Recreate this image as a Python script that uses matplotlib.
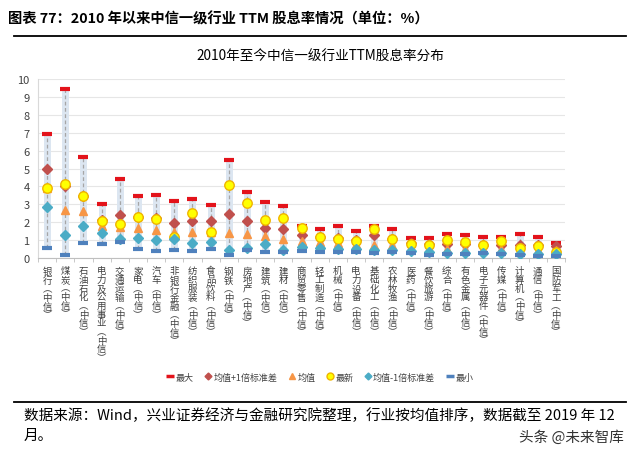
import numpy as np
import matplotlib
matplotlib.use("Agg")
import matplotlib.pyplot as plt
from matplotlib.lines import Line2D

plt.rcParams["font.family"] = ["Noto Sans CJK SC", "DejaVu Sans"]

industries = ["银行", "煤炭", "石油石化", "电力及公用事业", "交通运输", "家电", "汽车",
              "非银行金融", "纺织服装", "食品饮料", "钢铁", "房地产", "建筑", "建材",
              "商贸零售", "轻工制造", "机械", "电力设备", "基础化工", "农林牧渔", "医药",
              "餐饮旅游", "综合", "有色金属", "电子元器件", "传媒", "计算机", "通信", "国防军工"]

max_v = [6.9, 9.45, 5.65, 3.0, 4.43, 3.46, 3.5, 3.2, 3.27, 2.96, 5.46, 3.7, 3.15, 2.92,
         1.8, 1.62, 1.8, 1.5, 1.77, 1.62, 1.1, 1.12, 1.34, 1.3, 1.15, 1.19, 1.34, 1.2, 0.84]
plus_sd = [5.0, 4.05, 3.45, 2.1, 2.38, 2.3, 2.25, 1.98, 2.09, 2.07, 2.46, 2.09, 1.7, 1.6,
           1.3, 1.15, 1.1, 1.0, 1.3, 1.05, 0.85, 0.78, 0.8, 0.78, 0.72, 0.72, 0.75, 0.72, 0.66]
mean_v = [3.9, 2.68, 2.65, 1.76, 1.75, 1.7, 1.58, 1.47, 1.46, 1.45, 1.4, 1.32, 1.25, 1.04,
          0.97, 0.88, 0.82, 0.77, 0.75, 0.73, 0.6, 0.56, 0.53, 0.52, 0.5, 0.49, 0.47, 0.45, 0.43]
latest = [3.89, 4.15, 3.48, 2.04, 1.88, 2.28, 2.17, 1.2, 2.5, 1.48, 4.08, 3.05, 2.12, 2.23,
          1.68, 1.18, 1.05, 0.95, 1.62, 1.05, 0.8, 0.75, 1.02, 0.92, 0.72, 0.93, 0.55, 0.68, 0.33]
minus_sd = [2.85, 1.26, 1.8, 1.4, 1.08, 1.1, 0.98, 1.05, 0.82, 0.88, 0.44, 0.58, 0.8, 0.47,
            0.62, 0.58, 0.5, 0.48, 0.42, 0.42, 0.38, 0.34, 0.3, 0.3, 0.3, 0.28, 0.25, 0.22, 0.22]
min_v = [0.54, 0.18, 0.82, 0.78, 0.87, 0.53, 0.38, 0.45, 0.4, 0.48, 0.18, 0.44, 0.32, 0.33,
         0.4, 0.32, 0.32, 0.32, 0.3, 0.32, 0.28, 0.18, 0.22, 0.22, 0.28, 0.22, 0.15, 0.12, 0.13]

W, H = 640, 456
fig = plt.figure(figsize=(6.4, 4.56), dpi=100)

fig.text(8 / W, 1 - 19 / H, "图表 77：2010 年以来中信一级行业 TTM 股息率情况（单位：%）",
         fontsize=10.3, fontweight="bold", va="center")
fig.add_artist(Line2D([14 / W, 626 / W], [1 - 37 / H] * 2, color="black", lw=1.3))
fig.text(0.5, 1 - 57 / H, "2010年至今中信一级行业TTM股息率分布", ha="center", va="center",
         fontsize=9.8)

ax = fig.add_axes([38 / W, 1 - 259 / H, (565 - 38) / W, (259 - 80) / H])
x = np.arange(len(industries))

ax.vlines(x, min_v, max_v, color="#dce6f1", lw=5, zorder=1)
ax.vlines(x, min_v, max_v, color="#a6a6a6", lw=0.9, linestyles=(0, (3, 2)), zorder=2)

ax.plot(x, max_v, ls="none", marker="_", ms=7.5, mew=3, color="#e3131b", zorder=3)
ax.plot(x, plus_sd, ls="none", marker="D", ms=5, color="#c0504d", zorder=4)
ax.plot(x, mean_v, ls="none", marker="^", ms=6, color="#f79646", zorder=5)
ax.plot(x, latest, ls="none", marker="o", ms=6.8, mfc="#ffff00", mec="#f0b400", mew=1,
        zorder=6)
ax.plot(x, minus_sd, ls="none", marker="D", ms=5, color="#4bacc6", zorder=7)
ax.plot(x, min_v, ls="none", marker="_", ms=7.5, mew=3, color="#4f81bd", zorder=8)

ax.set_xlim(-0.5, len(industries) - 0.5)
ax.set_ylim(0, 10)
ax.set_yticks(range(0, 11))
ax.tick_params(axis="y", length=0, labelsize=8, colors="#404040", pad=6)
ax.grid(axis="y", color="#e6e6e6", lw=0.8)
ax.set_axisbelow(True)
for s in ["top", "right"]:
    ax.spines[s].set_visible(False)
ax.spines["left"].set_color("#d9d9d9")
ax.spines["bottom"].set_color("#bfbfbf")

labels = ["\n".join(name + "︵中信︶") for name in industries]
ax.set_xticks(x)
ax.set_xticklabels(labels, fontsize=6.8, linespacing=0.95, va="top", color="#404040")
ax.tick_params(axis="x", which="major", length=0, pad=6)
ax.set_xticks(np.arange(-0.5, len(industries)), minor=True)
ax.tick_params(axis="x", which="minor", length=3, color="#bfbfbf")

handles = [
    Line2D([], [], ls="none", marker="_", ms=6, mew=2.5, color="#e3131b"),
    Line2D([], [], ls="none", marker="D", ms=3.5, color="#c0504d"),
    Line2D([], [], ls="none", marker="^", ms=5, color="#f79646"),
    Line2D([], [], ls="none", marker="o", ms=5, mfc="#ffff00", mec="#f0b400"),
    Line2D([], [], ls="none", marker="D", ms=3.5, color="#4bacc6"),
    Line2D([], [], ls="none", marker="_", ms=6, mew=2.5, color="#4f81bd"),
]
names = ["最大", "均值+1倍标准差", "均值", "最新", "均值-1倍标准差", "最小"]
fig.legend(handles, names, loc="center", bbox_to_anchor=(0.5, 1 - 378 / H), ncol=6,
           frameon=False, fontsize=6.5, handlelength=0.8, handletextpad=0.2,
           columnspacing=1.2, labelcolor="#404040")

fig.add_artist(Line2D([14 / W, 626 / W], [1 - 403 / H] * 2, color="black", lw=1.3))
fig.text(24 / W, 1 - 416 / H,
         "数据来源：Wind，兴业证券经济与金融研究院整理，行业按均值排序，数据截至 2019 年 12",
         fontsize=10.5, va="center")
fig.text(24 / W, 1 - 436 / H, "月。", fontsize=10.5, va="center")
fig.text(624 / W, 1 - 438 / H, "头条 @未来智库", fontsize=10.5, va="center", ha="right",
         color="#333333")

fig.savefig("out.png", dpi=100)
